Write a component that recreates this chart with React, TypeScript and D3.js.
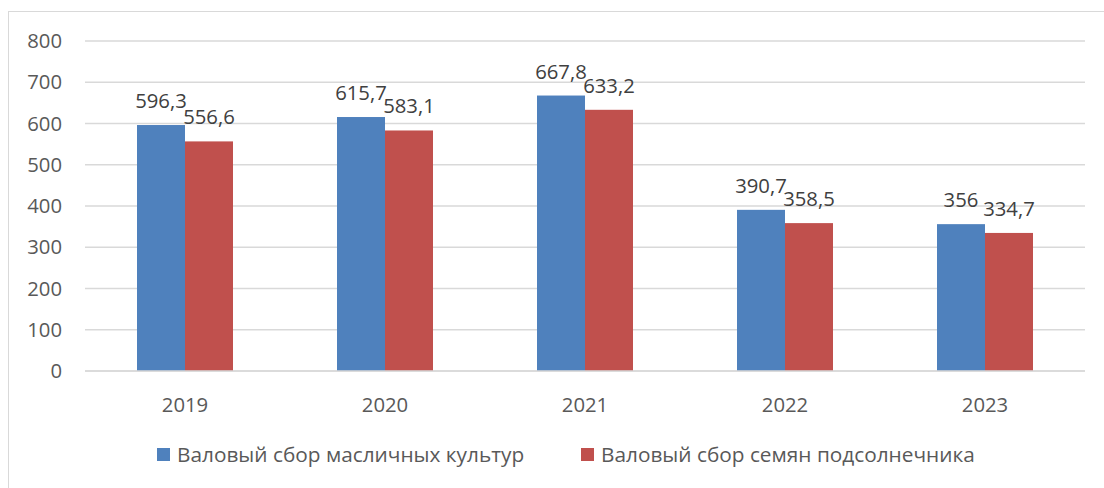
import React from "react";
import * as d3 from "d3";

const years = ["2019", "2020", "2021", "2022", "2023"];
const oilseeds = [596.3, 615.7, 667.8, 390.7, 356];
const sunflower = [556.6, 583.1, 633.2, 358.5, 334.7];
const yTicks = [0, 100, 200, 300, 400, 500, 600, 700, 800];
const seriesNames = ["Валовый сбор масличных культур", "Валовый сбор семян подсолнечника"];
const colors = ["#4f81bd", "#c0504d"];

const W = 1104, H = 488;
const left = 85, right = 1085, top = 41, bottom = 371;
const font = "'Open Sans', sans-serif";
const fs = 20.3;

function fmt(v: number) {
  return String(v).replace(".", ",");
}

export default function App() {
  const x = d3.scaleBand<string>().domain(years).range([left, right]).paddingInner(0.52).paddingOuter(0.26);
  const sub = d3.scaleBand<number>().domain([0, 1]).range([0, x.bandwidth()]);
  const y = d3.scaleLinear().domain([0, 800]).range([bottom, top]);
  const series = [oilseeds, sunflower];
  return (
    <svg width={W} height={H} style={{ position: "absolute", left: 0, top: 0, fontFamily: font }}>
      <rect x={8.5} y={11.5} width={W + 10} height={H + 10} fill="#fff" stroke="#d9d9d9" />
      {yTicks.map((t) => (
        <g key={t}>
          <line x1={left} x2={right} y1={y(t)} y2={y(t)} stroke="#d9d9d9" strokeWidth={1.3} />
          <text x={62} y={y(t)} dy="0.35em" textAnchor="end" fontSize={fs} fill="#595959">{t}</text>
        </g>
      ))}
      {series.map((vals, si) =>
        vals.map((v, i) => {
          const bx = (x(years[i]) as number) + (sub(si) as number);
          return (
            <g key={`${si}-${i}`}>
              <rect x={bx} y={y(v)} width={sub.bandwidth()} height={bottom - y(v)} fill={colors[si]} />
              <text x={bx + sub.bandwidth() / 2} y={y(v) - 17} textAnchor="middle" fontSize={fs} fill="#404040">{fmt(v)}</text>
            </g>
          );
        })
      )}
      <line x1={left} x2={right} y1={bottom} y2={bottom} stroke="#d9d9d9" strokeWidth={1.3} />
      {years.map((yr) => (
        <text key={yr} x={(x(yr) as number) + x.bandwidth() / 2} y={405} dy="0.35em" textAnchor="middle" fontSize={fs} fill="#595959">{yr}</text>
      ))}
      {seriesNames.map((n, i) => {
        const lx = i === 0 ? 157 : 581;
        return (
          <g key={n}>
            <rect x={lx} y={448} width={13} height={13} fill={colors[i]} />
            <text x={lx + 20} y={455} dy="0.35em" fontSize={20.8} fill="#595959">{n}</text>
          </g>
        );
      })}
    </svg>
  );
}
